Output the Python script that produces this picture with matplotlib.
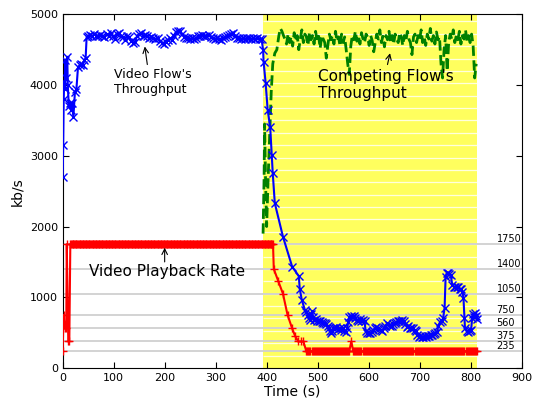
import numpy as np
import matplotlib
matplotlib.use("Agg")
import matplotlib.pyplot as plt

# --- data ---
# video flow throughput (blue)
video_t_start = [0, 1, 2, 3, 4, 5, 7, 9, 10, 12, 14, 16, 18, 21, 24, 27, 30, 33, 36, 39, 42, 45, 47]
video_v_start = [2700, 3150, 3800, 4050, 3950, 4350, 4100, 4400, 4000, 3700, 3750, 3650, 3750, 3550,
                 3900, 3950, 4250, 4280, 4300, 4280, 4350, 4380, 4680]
video_t_flat = list(range(50, 391, 4))
video_v_flat = [4700, 4710, 4690, 4720, 4700, 4690, 4710, 4700, 4680, 4720,
                4700, 4740, 4690, 4650, 4720, 4740, 4700, 4680, 4640, 4700,
                4680, 4620, 4600, 4610, 4700, 4720, 4730, 4700, 4710, 4690,
                4670, 4680, 4660, 4650, 4670, 4620, 4600, 4580, 4610, 4640,
                4660, 4640, 4700, 4750, 4770, 4760, 4720, 4680, 4660, 4670,
                4650, 4660, 4650, 4670, 4690, 4700, 4710, 4690, 4700, 4710,
                4680, 4660, 4650, 4660, 4650, 4640, 4660, 4680, 4700, 4710,
                4720, 4730, 4700, 4670, 4660, 4650, 4660, 4650, 4670, 4660,
                4650, 4660, 4650, 4660, 4650, 4650]
video_t_end = [393, 394, 398, 402, 407, 410, 412, 416, 432, 450, 463, 465, 469, 475,
               478, 481, 483, 485, 487, 489, 491, 493, 496, 499, 502, 505, 508, 511, 514, 517,
               520, 523, 525, 527, 529, 531, 534, 537, 540, 543, 546, 549, 552, 555, 558, 560,
               562, 565, 568, 571, 574, 577, 580, 583, 586, 589, 592, 594, 597, 600, 603, 606,
               609, 612, 615, 618, 621, 624, 627, 630, 633, 636, 639, 642, 645, 648, 651, 654,
               657, 660, 663, 666, 669, 672, 675, 678, 681, 684, 687, 690, 693, 695, 698, 701,
               704, 707, 710, 713, 716, 719, 722, 725, 728, 731, 734, 737, 740, 743, 746, 749,
               751, 753, 755, 758, 761, 764, 767, 770, 773, 776, 779, 782, 784, 786, 788, 789,
               792, 795, 798, 801, 803, 805, 807, 809, 811, 812]
video_v_end = [4500, 4330, 4030, 3650, 3400, 3010, 2750, 2330, 1857, 1433, 1300, 1113, 962, 820,
               790, 750, 700, 680, 760, 800, 720, 680, 690, 670, 665, 660, 650, 640, 630, 620,
               600, 570, 520, 490, 530, 570, 560, 575, 550, 560, 540, 570, 530, 510, 560, 650,
               720, 740, 720, 730, 700, 680, 660, 690, 670, 680, 670, 520, 490, 500, 490, 510,
               540, 560, 580, 560, 550, 540, 530, 560, 600, 630, 610, 590, 600, 620, 640, 650,
               660, 670, 660, 680, 670, 620, 580, 590, 570, 560, 570, 540, 520, 460, 440, 450,
               440, 445, 450, 440, 455, 450, 460, 470, 480, 500, 510, 600, 650, 670, 700, 850,
               1290, 1340, 1350, 1330, 1310, 1180, 1150, 1140, 1150, 1140, 1120, 1110, 1080, 990, 700, 560,
               520, 510, 530, 540, 700, 770, 720, 780, 730, 690]

# playback rate (red)
play_t_start = [0, 1, 2, 4, 7, 8, 11, 13, 15]
play_v_start = [235, 560, 750, 560, 560, 1750, 375, 375, 1750]
play_t_plateau = list(np.arange(16.5, 413, 1.5))
play_v_plateau = [1750] * len(play_t_plateau)
play_t_drop = [414, 423, 432, 441, 450, 456, 462, 467, 472, 478]
play_v_drop = [1400, 1225, 1050, 750, 560, 450, 375, 375, 375, 235]
tail_a = list(np.arange(480, 563, 2))
tail_b = list(np.arange(572, 813, 2))
play_t_tail = tail_a + [566, 570] + tail_b
play_v_tail = [235] * len(tail_a) + [375, 235] + [235] * len(tail_b)

# competing flow (green)
comp_t = [393, 395, 396, 398, 400, 403, 406, 409, 412, 416, 420, 424] + list(range(427, 813, 3))
comp_v = [1900, 2700, 3450, 2600, 2000, 2700, 3300, 3900, 4300, 4450, 4500, 4700,
          4800, 4760, 4700, 4650, 4580, 4720, 4600, 4680, 4550, 4740,
          4620, 4700, 4500, 4650, 4780, 4600, 4720, 4680, 4560, 4750,
          4640, 4700, 4580, 4760, 4620, 4690, 4520, 4700, 4650, 4600,
          4380, 4560, 4720, 4640, 4700, 4580, 4760, 4620, 4680, 4550,
          4720, 4600, 4680, 4500, 4300, 4150, 4550, 4700, 4640, 4760,
          4620, 4700, 4580, 4740, 4650, 4600, 4720, 4680, 4560, 4700,
          4630, 4470, 4600, 4720, 4650, 4780, 4600, 4690, 4540, 4700,
          4640, 4760, 4600, 4700, 4580, 4720, 4650, 4600, 4740, 4680,
          4560, 4700, 4620, 4760, 4650, 4600, 4430, 4680, 4720, 4600,
          4700, 4640, 4780, 4600, 4680, 4560, 4720, 4650, 4800, 4620,
          4700, 4580, 4750, 4640, 4680, 4300, 4100, 4500, 4700, 4200,
          4600, 4720, 4650, 4780, 4600, 4700, 4640, 4760, 4580, 4700,
          4650, 4780, 4620, 4700, 4600, 4720, 4550, 4100, 4300]

rates = [235, 375, 560, 750, 1050, 1400, 1750]
comp_start, comp_end = 393, 812

video_t = video_t_start + video_t_flat + video_t_end
video_v = video_v_start + video_v_flat + video_v_end
play_t = play_t_start + play_t_plateau + play_t_drop + play_t_tail
play_v = play_v_start + play_v_plateau + play_v_drop + play_v_tail

fig = plt.figure(figsize=(5.33, 4.03), dpi=100)
ax = fig.add_axes([0.1176, 0.0868, 0.861, 0.8777])

# competing flow period
ax.axvspan(comp_start, comp_end, color='#ffff5e', lw=0, zorder=0)
ax.hlines(np.arange(175, 5000, 175), comp_start, comp_end, colors='white', lw=0.9, alpha=0.8, zorder=1)

# available bitrates
for r in rates:
    ax.axhline(r, color='#d0d0d0', lw=1.3, zorder=2)
    ax.text(851, r, str(r), fontsize=7, ha='left', va='bottom', zorder=3)

ax.plot(comp_t, comp_v, color='#008000', ls='--', lw=2, zorder=4)
ax.plot(play_t, play_v, color='red', lw=1.5, marker='+', ms=6, mew=1, zorder=5)
ax.plot(video_t, video_v, color='blue', lw=1.5, marker='x', ms=5.5, mew=1, zorder=6)

arrow = dict(arrowstyle='->', color='black', lw=0.8, shrinkA=0, shrinkB=0)
ax.text(100, 4050, "Video Flow's\nThroughput", fontsize=9, ha='left', va='center', zorder=7)
ax.annotate("", xy=(161, 4545), xytext=(166, 4290), arrowprops=arrow, zorder=7)
ax.text(500, 4000, "Competing Flow's\nThroughput", fontsize=11, ha='left', va='center', zorder=7)
ax.annotate("", xy=(642, 4450), xytext=(637, 4290), arrowprops=arrow, zorder=7)
ax.text(51, 1370, "Video Playback Rate", fontsize=11, ha='left', va='center', zorder=7)
ax.annotate("", xy=(200, 1700), xytext=(200, 1500), arrowprops=arrow, zorder=7)

ax.set_xlim(0, 900)
ax.set_ylim(0, 5000)
ax.set_xticks(range(0, 901, 100))
ax.set_yticks(range(0, 5001, 1000))
ax.tick_params(direction='in', top=True, right=True, labelsize=8, length=4)
ax.set_xlabel("Time (s)", fontsize=10, labelpad=1)
ax.set_ylabel("kb/s", fontsize=10)

fig.savefig("out.png", dpi=100)
